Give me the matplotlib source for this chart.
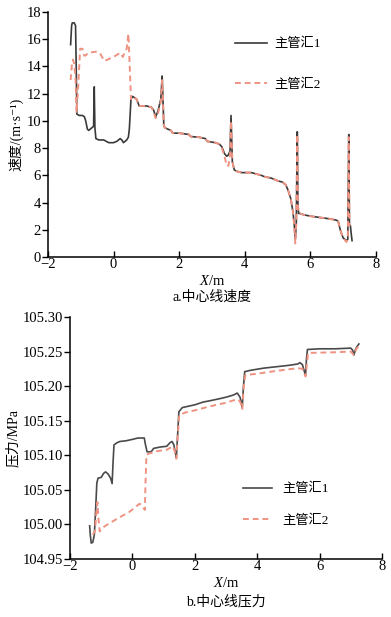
import matplotlib
matplotlib.use("Agg")
import matplotlib.pyplot as plt
import numpy as np

plt.rcParams['font.family'] = ['Liberation Serif', 'Noto Sans CJK SC', 'DejaVu Sans']
plt.rcParams['mathtext.fontset'] = 'custom'
plt.rcParams['mathtext.it'] = 'Liberation Serif:italic'
plt.rcParams['mathtext.rm'] = 'Liberation Serif'
plt.rcParams['axes.unicode_minus'] = True

# ---- a. centre-line velocity ----
vx1 = [-1.31, -1.28, -1.26, -1.2, -1.16, -1.14, -1.12, -1.05, -0.95, -0.89, -0.85, -0.80, -0.76,
       -0.66, -0.61, -0.59, -0.57, -0.54, -0.45, -0.3, -0.15, 0.0, 0.1, 0.2, 0.25, 0.3, 0.4, 0.45,
       0.48, 0.53, 0.58, 0.7, 0.78, 0.85, 1.0, 1.15, 1.22, 1.28, 1.35, 1.44, 1.48, 1.5, 1.53, 1.56,
       1.65, 1.75, 1.8, 2.0, 2.3, 2.35, 2.6, 2.8, 2.85, 3.1, 3.22, 3.3, 3.38, 3.45, 3.5, 3.55, 3.58,
       3.62, 3.68, 3.75, 3.9, 4.2, 4.5, 4.6, 4.8, 5.0, 5.15, 5.25, 5.32, 5.4, 5.47, 5.51, 5.54, 5.57,
       5.6, 5.62, 5.64, 5.68, 5.8, 6.0, 6.3, 6.6, 6.8, 6.85, 6.9, 6.95, 7.0, 7.1, 7.14, 7.17, 7.19,
       7.22, 7.24, 7.27]
vy1 = [15.6, 17.0, 17.2, 17.2, 17.0, 14.0, 10.5, 10.4, 10.4, 10.3, 10.0, 9.4, 9.3,
       9.5, 9.6, 12.5, 9.5, 8.7, 8.6, 8.6, 8.4, 8.4, 8.5, 8.7, 8.6, 8.4, 8.6, 8.8,
       9.4, 11.6, 11.8, 11.6, 11.1, 11.1, 11.1, 11.0, 10.8, 10.3, 10.7, 11.6, 13.3, 12.0, 9.7, 9.5,
       9.4, 9.3, 9.1, 9.1, 9.0, 8.85, 8.8, 8.7, 8.5, 8.4, 8.3, 8.1, 7.6, 7.4, 7.5, 7.8, 10.4,
       7.0, 6.4, 6.3, 6.2, 6.2, 6.0, 5.9, 5.8, 5.6, 5.5, 5.3, 4.9, 4.3, 3.3, 2.3, 1.3, 2.5,
       9.2, 3.8, 3.2, 3.2, 3.1, 3.0, 2.9, 2.8, 2.7, 2.6, 2.1, 1.7, 1.4, 1.2, 1.3, 9.0, 2.4,
       2.3, 1.8, 1.2]

vx2 = [-1.31, -1.27, -1.24, -1.2, -1.16, -1.13, -1.08, -1.02, -0.95, -0.9, -0.85, -0.78, -0.5,
       -0.4, -0.28, 0.0, 0.2, 0.28, 0.35, 0.4, 0.45, 0.5, 0.53, 0.58, 0.7, 0.78, 1.0, 1.15, 1.22,
       1.28, 1.35, 1.44, 1.48, 1.5, 1.53, 1.56, 1.65, 1.75, 1.8, 2.0, 2.3, 2.35, 2.6, 2.8, 2.85,
       3.1, 3.22, 3.3, 3.38, 3.45, 3.5, 3.55, 3.58, 3.62, 3.68, 3.75, 3.9, 4.2, 4.5, 4.6, 4.8, 5.0,
       5.15, 5.25, 5.32, 5.4, 5.47, 5.51, 5.54, 5.57, 5.6, 5.62, 5.64, 5.68, 5.8, 6.0, 6.3, 6.6,
       6.8, 6.85, 6.9, 6.95, 7.0, 7.1, 7.14, 7.17, 7.19, 7.22]
vy2 = [13.0, 14.2, 14.5, 14.2, 13.0, 10.6, 12.5, 15.3, 15.3, 14.8, 14.8, 15.0, 15.1,
       14.9, 14.4, 14.7, 15.0, 14.7, 15.1, 15.3, 16.4, 13.5, 11.6, 11.8, 11.6, 11.1, 11.1, 11.0, 10.7,
       10.2, 10.5, 11.4, 13.0, 12.0, 9.7, 9.5, 9.4, 9.3, 9.1, 9.1, 9.0, 8.85, 8.8, 8.7, 8.5,
       8.4, 8.3, 8.0, 7.4, 6.7, 6.7, 7.5, 10.0, 7.0, 6.4, 6.3, 6.2, 6.2, 6.0, 5.9, 5.8, 5.6,
       5.5, 5.3, 4.9, 4.3, 3.3, 2.2, 1.0, 2.5, 9.0, 3.8, 3.2, 3.2, 3.1, 3.0, 2.9, 2.8,
       2.7, 2.6, 2.1, 1.7, 1.4, 1.1, 1.3, 8.8, 2.4, 2.3]

# ---- b. centre-line pressure ----
px1 = [-1.37, -1.35, -1.32, -1.27, -1.22, -1.18, -1.14, -1.1, -1.0, -0.92, -0.86, -0.78, -0.7,
       -0.65, -0.62, -0.59, -0.5, -0.4, -0.2, 0.0, 0.18, 0.38, 0.42, 0.47, 0.6, 0.68, 0.9, 1.1,
       1.2, 1.27, 1.33, 1.37, 1.41, 1.45, 1.49, 1.6, 1.8, 2.0, 2.27, 2.5, 2.81, 3.0, 3.23, 3.36,
       3.45, 3.52, 3.56, 3.6, 3.8, 4.2, 4.6, 5.0, 5.3, 5.37, 5.45, 5.52, 5.55, 5.58, 5.61, 6.0,
       6.5, 7.0, 7.06, 7.1, 7.15, 7.21, 7.26]
py1 = [104.998, 104.985, 104.973, 104.974, 104.985, 105.02, 105.06, 105.067, 105.068, 105.074,
       105.076, 105.073, 105.067, 105.059, 105.09, 105.115, 105.118, 105.12, 105.121, 105.123,
       105.125, 105.125, 105.115, 105.105, 105.105, 105.110, 105.112, 105.113, 105.118, 105.12,
       105.115, 105.105, 105.097, 105.13, 105.163, 105.169, 105.171, 105.173, 105.177, 105.179,
       105.182, 105.184, 105.187, 105.19, 105.184, 105.169, 105.2, 105.221, 105.223, 105.226,
       105.228, 105.23, 105.232, 105.234, 105.231, 105.22, 105.216, 105.24, 105.253, 105.254,
       105.254, 105.255, 105.252, 105.245, 105.253, 105.258, 105.261]

px2 = [-1.27, -1.2, -1.15, -1.12, -1.09, -1.05, -0.9, -0.5, -0.1, 0.23, 0.34, 0.4, 0.42, 0.45,
       0.5, 0.8, 1.1, 1.3, 1.37, 1.41, 1.45, 1.5, 1.7, 2.0, 2.5, 3.0, 3.35, 3.45, 3.52, 3.57, 3.62,
       4.0, 4.6, 5.3, 5.45, 5.55, 5.6, 5.63, 6.5, 7.0, 7.1, 7.18, 7.24]
py2 = [104.985, 104.99, 105.02, 105.032, 105.01, 104.99, 104.997, 105.008, 105.018, 105.03,
       105.025, 105.021, 105.06, 105.1, 105.102, 105.106, 105.108, 105.113, 105.104, 105.095,
       105.125, 105.158, 105.162, 105.165, 105.171, 105.176, 105.181, 105.178, 105.167, 105.2,
       105.216, 105.218, 105.222, 105.226, 105.225, 105.214, 105.235, 105.248, 105.249, 105.25,
       105.245, 105.254, 105.257]

names = ['主管汇1', '主管汇2']
c_solid = '#3a3a3a'
c_dash = '#ee9382'

W, H = 391, 617
fig = plt.figure(figsize=(W / 100, H / 100), dpi=100)


def style(ax):
    for s in ['top', 'right']:
        ax.spines[s].set_visible(False)
    for s in ['left', 'bottom']:
        ax.spines[s].set_linewidth(1.1)
    ax.tick_params(axis='x', direction='in', length=4, width=1.0, pad=1, labelsize=10.5)
    ax.tick_params(axis='y', direction='out', length=4, width=1.0, pad=1, labelsize=10.5)


ax1 = fig.add_axes([48 / W, 1 - 257 / H, (376 - 48) / W, (257 - 12) / H])
ax1.plot(vx1, vy1, color=c_solid, lw=1.2, label=names[0])
ax1.plot(vx2, vy2, color=c_dash, lw=1.4, ls=(0, (3, 2)), label=names[1])
ax1.set_xlim(-2, 8)
ax1.set_ylim(0, 18)
ax1.set_xticks(np.arange(-2, 9, 2))
ax1.set_yticks(np.arange(0, 19, 2))
style(ax1)
ax1.set_ylabel('速度/(m·s\u207b\u00b9)', fontsize=10, labelpad=2)
ax1.set_xlabel('$X$/m', fontsize=10.5, labelpad=2)
ax1.legend(loc='upper left', bbox_to_anchor=(235 / W, 1 - 38 / H), bbox_transform=fig.transFigure,
           frameon=False, fontsize=9.5, handlelength=2.4, handletextpad=0.55, labelspacing=2.1,
           borderpad=0, borderaxespad=0)
fig.text(212 / W, 1 - 297 / H, 'a.中心线速度', ha='center', va='center', fontsize=10)

ax2 = fig.add_axes([70 / W, 1 - 559 / H, (382 - 70) / W, (559 - 317) / H])
ax2.plot(px1, py1, color='#4a4a4a', lw=1.2, label=names[0])
ax2.plot(px2, py2, color=c_dash, lw=1.4, ls=(0, (3, 2)), label=names[1])
ax2.set_xlim(-2, 8)
ax2.set_ylim(104.95, 105.30)
ax2.set_xticks(np.arange(-2, 9, 2))
ax2.set_yticks(np.arange(104.95, 105.301, 0.05))
ax2.yaxis.set_major_formatter(matplotlib.ticker.FormatStrFormatter('%.2f'))
style(ax2)
ax2.set_ylabel('压力/MPa', fontsize=10, labelpad=2)
ax2.set_xlabel('$X$/m', fontsize=10.5, labelpad=2)
ax2.legend(loc='upper left', bbox_to_anchor=(243 / W, 1 - 483 / H), bbox_transform=fig.transFigure,
           frameon=False, fontsize=9.5, handlelength=2.2, handletextpad=0.8, labelspacing=1.45,
           borderpad=0, borderaxespad=0)
fig.text(226 / W, 1 - 602 / H, 'b.中心线压力', ha='center', va='center', fontsize=10)

fig.savefig('out.png', dpi=100)
